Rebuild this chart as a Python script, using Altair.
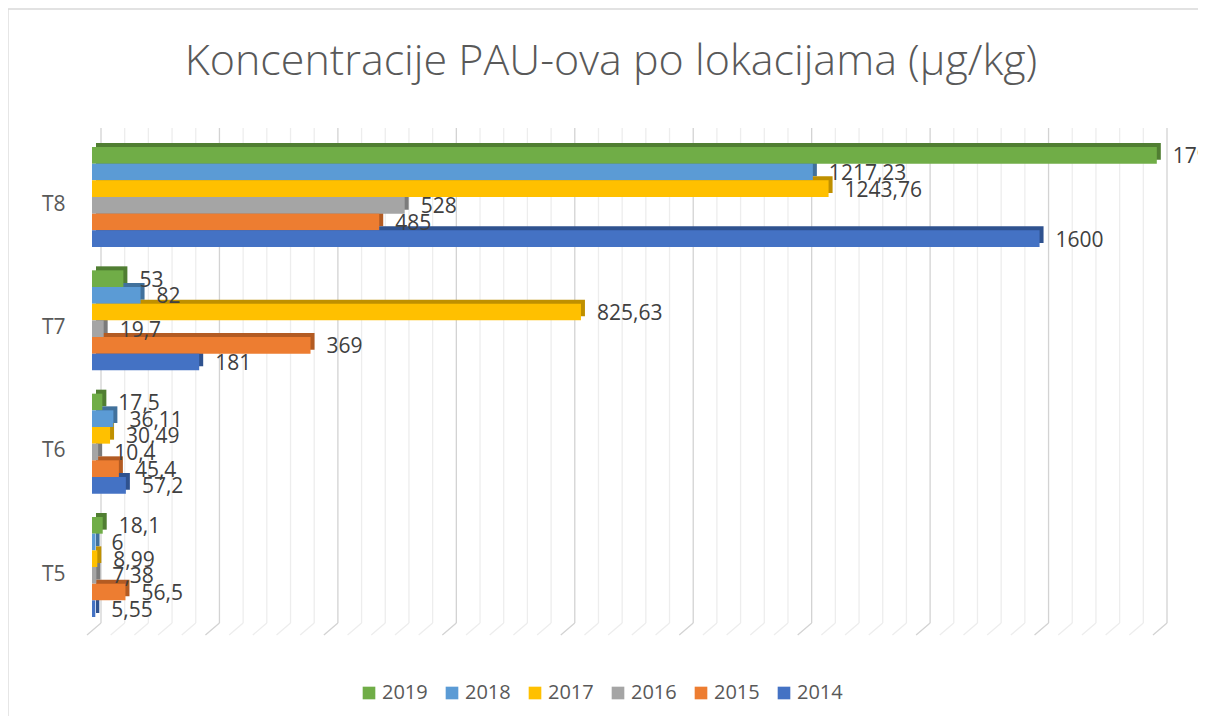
import altair as alt
import pandas as pd

# ---- data ----
categories = ["T8", "T7", "T6", "T5"]
years = ["2019", "2018", "2017", "2016", "2015", "2014"]
v2019 = [1798, 53, 17.5, 18.1]
v2018 = [1217.23, 82, 36.11, 6]
v2017 = [1243.76, 825.63, 30.49, 8.99]
v2016 = [528, 19.7, 10.4, 7.38]
v2015 = [485, 369, 45.4, 56.5]
v2014 = [1600, 181, 57.2, 5.55]
series = [v2019, v2018, v2017, v2016, v2015, v2014]

grid_values = list(range(0, 1801, 40))

front_colors = ["#70AD47", "#5B9BD5", "#FFC000", "#A5A5A5", "#ED7D31", "#4472C4"]
dark_colors = ["#507E32", "#41719C", "#BF9000", "#7B7B7B", "#B35B22", "#2F528F"]

rows = []
for ci, cat in enumerate(categories):
    for yi, yr in enumerate(years):
        v = series[yi][ci]
        rows.append({"cat": cat, "year": yr, "value": v, "ci": ci, "yi": yi,
                     "label": f"{v:g}".replace(".", ",")})
df = pd.DataFrame(rows)
grid_df = pd.DataFrame({"v": grid_values})

GROUP = 7.4  # group step in bar-slot units
FONT = "Open Sans"

xs = alt.Scale(domain=[0, 1800], nice=False, zero=True)
ys = alt.Scale(domain=[-1.02, 29.22], reverse=True, nice=False, zero=False)

dark_js = "[" + ",".join(f"'{c}'" for c in dark_colors) + "]"
base = alt.Chart(df).transform_calculate(
    pos=f"datum.ci * {GROUP} + datum.yi",
    pos2=f"datum.ci * {GROUP} + datum.yi + 1",
    mid=f"datum.ci * {GROUP} + datum.yi + 0.5",
    dark=f"{dark_js}[datum.yi]",
)

cat_js = "[" + ",".join(f"'{c}'" for c in categories) + "]"
yaxis = alt.Axis(
    values=[ci * GROUP + 3 for ci in range(len(categories))],
    labelExpr=f"{cat_js}[round((datum.value - 3) / {GROUP})]",
    domain=False, ticks=False, grid=False, title=None,
    labelFont=FONT, labelFontSize=21, labelColor="#595959",
    labelPadding=27, labelOffset=7,
)

border = alt.Chart(alt.Data(values=[{}])).mark_rect(
    fill="white", fillOpacity=0, stroke="#D9D9D9", strokeWidth=1.3
).encode(x=alt.value(-84), x2=alt.value(1110), y=alt.value(-121), y2=alt.value(600))

major_cond = alt.condition("datum.v % 200 === 0", alt.value("#D3D3D3"), alt.value("#EDEDED"))

grid_v = alt.Chart(grid_df).mark_rule(xOffset=9, strokeWidth=1.3).encode(
    x=alt.X("v:Q", scale=xs, axis=None),
    y=alt.value(-2), y2=alt.value(493),
    color=major_cond,
)
grid_d = alt.Chart(grid_df).mark_rule(xOffset=9, x2Offset=-5, strokeWidth=1.3).encode(
    x=alt.X("v:Q", scale=xs, axis=None),
    x2=alt.X2("v"),
    y=alt.value(493), y2=alt.value(505),
    color=major_cond,
)

back = base.mark_rect(xOffset=4, x2Offset=4, yOffset=-4, y2Offset=-4).encode(
    x=alt.X("value:Q", scale=xs, axis=None),
    x2=alt.datum(0),
    y=alt.Y("pos:Q", scale=ys, axis=yaxis),
    y2="pos2:Q",
    fill=alt.Fill("dark:N", scale=None),
)

front = base.mark_rect().encode(
    x=alt.X("value:Q", scale=xs, axis=None),
    x2=alt.datum(0),
    y=alt.Y("pos:Q", scale=ys, axis=yaxis),
    y2="pos2:Q",
    color=alt.Color(
        "year:N",
        scale=alt.Scale(domain=years, range=front_colors),
        legend=alt.Legend(
            orient="none", legendX=267, legendY=553, direction="horizontal",
            title=None, symbolType="square", symbolSize=160, symbolStrokeWidth=0,
            labelFont=FONT, labelFontSize=20, labelColor="#595959",
            columnPadding=14, labelOffset=3, padding=0,
        ),
    ),
)

labels = base.mark_text(align="left", baseline="middle", dx=16, dy=2,
                        font=FONT, fontSize=21, color="#404040").encode(
    x=alt.X("value:Q", scale=xs, axis=None),
    y=alt.Y("mid:Q", scale=ys, axis=yaxis),
    text="label:N",
)

chart = alt.layer(border, grid_v, grid_d, back, front, labels).properties(
    width=1066,
    height=504,
    autosize=alt.AutoSizeParams(type="none"),
    padding={"left": 84, "top": 122, "right": 40, "bottom": 82},
    title=alt.TitleParams(
        text="Koncentracije PAU-ova po lokacijama (µg/kg)",
        font=FONT, fontSize=43, fontWeight=300, color="#595959",
        anchor="middle", baseline="alphabetic", offset=-110, dx=-14,
    ),
).configure_view(stroke=None)

chart.save("out.html", embed_options={"renderer": "svg", "actions": False})
